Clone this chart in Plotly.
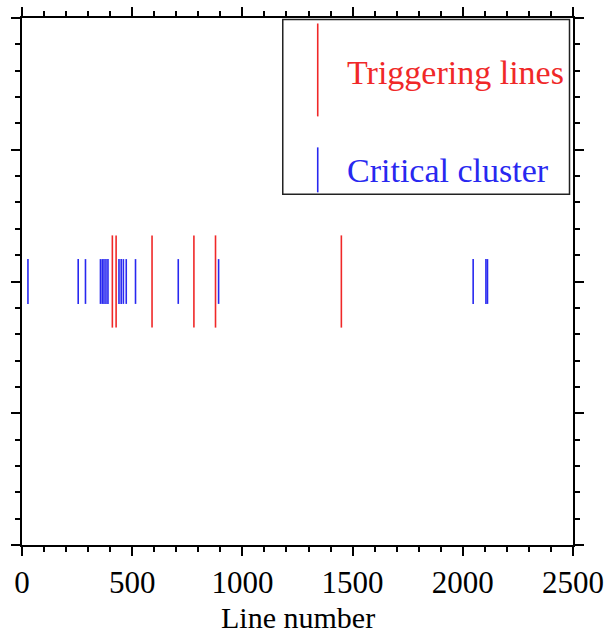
import plotly.graph_objects as go

# Line numbers of the two event types
triggering_lines = [410, 427, 590, 780, 878, 1449]
critical_cluster = [27, 255, 288, 356, 364, 372, 381, 390, 440, 450, 460,
                    473, 515, 709, 892, 2047, 2105, 2112]

RED = "#f02828"
BLUE = "#2828f0"
FONT = "Liberation Serif"


def rug(values, y_center, half):
    xs, ys = [], []
    for v in values:
        xs += [v, v, None]
        ys += [y_center - half, y_center + half, None]
    return xs, ys


fig = go.Figure()

xr, yr = rug(triggering_lines, 2.0, 0.35)
fig.add_trace(go.Scatter(x=xr, y=yr, mode="lines", name="Triggering lines",
                         line=dict(color=RED, width=1.6), hoverinfo="skip"))
xb, yb = rug(critical_cluster, 2.0, 0.17)
fig.add_trace(go.Scatter(x=xb, y=yb, mode="lines", name="Critical cluster",
                         line=dict(color=BLUE, width=1.6), hoverinfo="skip"))

axis_common = dict(
    showline=True, linecolor="black", linewidth=2, mirror="ticks",
    ticks="outside", tickcolor="black", tickwidth=2, ticklen=9,
    showgrid=False, zeroline=False, automargin=False,
)

fig.update_xaxes(
    range=[0, 2500], tickvals=[0, 500, 1000, 1500, 2000, 2500],
    minor=dict(dtick=100, ticks="outside", ticklen=5, tickwidth=2,
               tickcolor="black", showgrid=False),
    tickfont=dict(family=FONT, size=31, color="black"),
    **axis_common,
)
fig.update_yaxes(
    range=[0, 4], tickvals=[0, 1, 2, 3, 4], showticklabels=False,
    minor=dict(dtick=0.2, ticks="outside", ticklen=5, tickwidth=2,
               tickcolor="black", showgrid=False),
    **axis_common,
)

# Legend panel and axis title placed in paper coordinates
L, R_ = 22.0, 573.5
T, B = 17.5, 545.0


def px_x(px):
    return (px - L) / (R_ - L)


def px_y(py):
    return (B - py) / (B - T)


shapes = [
    dict(type="rect", xref="paper", yref="paper",
         x0=px_x(283), x1=px_x(570), y0=px_y(194), y1=px_y(19),
         line=dict(color="#222222", width=1.5), fillcolor="white", layer="above"),
    dict(type="line", xref="paper", yref="paper",
         x0=px_x(318), x1=px_x(318), y0=px_y(116), y1=px_y(23),
         line=dict(color=RED, width=1.6)),
    dict(type="line", xref="paper", yref="paper",
         x0=px_x(318), x1=px_x(318), y0=px_y(192), y1=px_y(147),
         line=dict(color=BLUE, width=1.6)),
]
annotations = [
    dict(xref="paper", yref="paper", x=px_x(345), y=px_y(72), text="Triggering lines",
         showarrow=False, xanchor="left", yanchor="middle",
         font=dict(family=FONT, size=34, color=RED)),
    dict(xref="paper", yref="paper", x=px_x(345), y=px_y(170), text="Critical cluster",
         showarrow=False, xanchor="left", yanchor="middle",
         font=dict(family=FONT, size=34, color=BLUE)),
    dict(xref="paper", yref="paper", x=0.5, y=px_y(618), text="Line number",
         showarrow=False, xanchor="center", yanchor="middle",
         font=dict(family=FONT, size=30, color="black")),
]

fig.update_layout(
    width=608, height=633,
    margin=dict(l=22, r=34.5, t=17.5, b=88, pad=0),
    plot_bgcolor="white", paper_bgcolor="white",
    showlegend=False,
    shapes=shapes, annotations=annotations,
)

fig.write_html("out.html")
